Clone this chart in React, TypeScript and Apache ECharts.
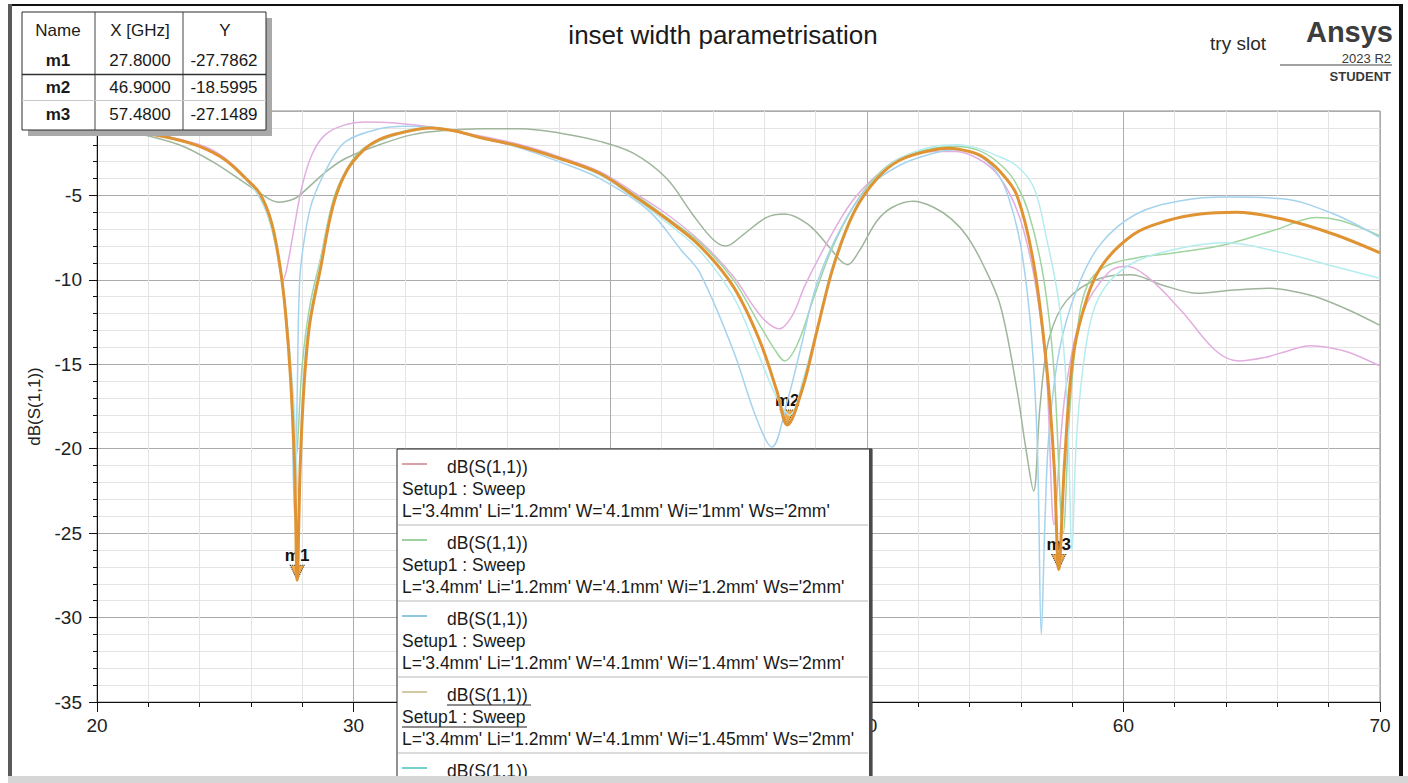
import React, { useEffect, useRef } from "react";
import * as echarts from "echarts";

const FONT = '"Liberation Sans", Arial, Helvetica, sans-serif';

// dB(S(1,1)) sweeps: [frequency GHz, dB]
const wi1mm: [number, number][] = [
  [20, -0.95], [22, -1.3], [24, -2.0], [25, -2.8], [26, -4.3], [26.5, -5.4], [26.9, -7.5], [27.1, -9.0],
  [27.25, -10.0], [27.4, -9.3], [27.65, -7.2], [28.0, -4.4], [28.4, -2.5], [28.9, -1.4], [29.6, -0.85],
  [30.5, -0.65], [31.5, -0.7], [33.0, -0.95], [35.0, -1.5], [36.5, -2.0], [38.0, -2.7], [39.6, -3.6],
  [40.9, -4.8], [42.2, -6.1], [43.5, -7.7], [44.8, -9.8], [45.6, -11.6], [46.1, -12.5], [46.6, -12.9],
  [47.1, -12.1], [47.6, -10.3], [48.45, -7.8], [49.4, -5.4], [50.4, -3.8], [51.3, -2.8], [52.6, -2.4],
  [53.5, -2.4], [54.3, -2.8], [55.0, -3.6], [55.6, -5.0], [56.1, -7.0], [56.6, -10.5], [57.0, -15.5],
  [57.3, -24.5], [57.55, -19.5], [57.8, -16.0], [58.4, -12.0], [59.4, -9.6], [60.1, -9.2], [61.0, -9.9],
  [62.3, -11.9], [63.6, -14.2], [64.5, -14.8], [65.5, -14.6], [66.2, -14.3], [67.3, -13.9], [68.0, -14.0],
  [68.8, -14.3], [70.0, -15.1],
];

const wi12mm: [number, number][] = [
  [20, -1.0], [22, -1.35], [24, -2.1], [25, -2.9], [26, -4.3], [26.5, -5.4], [27.0, -8.0], [27.4, -12.5],
  [27.75, -20.5], [28.0, -15.0], [28.3, -11.5], [28.7, -8.8], [29.2, -5.3], [29.75, -3.4], [30.4, -2.2],
  [31.7, -1.3], [33.0, -1.0], [35.0, -1.6], [36.5, -2.1], [38.0, -2.8], [39.6, -3.7], [40.9, -4.9],
  [42.2, -6.3], [43.5, -7.8], [44.8, -10.0], [45.8, -12.6], [46.4, -14.1], [46.8, -14.8], [47.3, -13.8],
  [47.9, -11.2], [48.6, -8.3], [49.5, -5.6], [50.4, -3.8], [51.3, -2.8], [52.6, -2.2], [53.5, -2.1],
  [54.3, -2.3], [55.0, -2.9], [55.7, -4.0], [56.3, -6.0], [56.9, -10.0], [57.3, -15.5], [57.65, -25.0],
  [57.9, -18.0], [58.2, -13.0], [58.6, -10.3], [59.3, -9.2], [60.5, -8.7], [62.0, -8.4], [64.0, -7.9],
  [66.0, -7.0], [67.5, -6.3], [68.5, -6.5], [70.0, -7.4],
];

const wi14mm: [number, number][] = [
  [20, -1.0], [22, -1.35], [24, -2.1], [25, -2.9], [26, -4.4], [26.5, -5.6], [27.0, -8.0], [27.3, -11.0],
  [27.55, -15.5], [27.7, -24.0], [27.8, -17.0], [27.9, -10.0], [28.1, -7.4], [28.4, -5.3], [29.1, -3.0],
  [29.7, -1.8], [31.0, -1.05], [32.0, -0.9], [33.0, -0.95], [35.0, -1.6], [36.5, -2.2], [38.0, -3.0],
  [39.6, -4.0], [41.5, -5.9], [42.8, -8.3], [43.5, -9.6], [44.8, -14.2], [45.7, -18.2], [46.3, -19.9],
  [46.9, -17.2], [47.4, -14.2], [48.06, -10.2], [49.0, -6.9], [50.0, -4.6], [51.3, -3.2], [52.6, -2.5],
  [53.5, -2.3], [54.3, -2.6], [55.0, -3.5], [55.5, -5.0], [56.0, -8.0], [56.4, -13.0], [56.65, -20.0],
  [56.8, -31.0], [56.95, -24.0], [57.1, -19.1], [57.5, -14.2], [58.2, -10.5], [59.1, -7.9], [60.5, -6.1],
  [62.3, -5.3], [64.0, -5.1], [66.2, -5.2], [68.2, -6.1], [70.0, -7.5],
];

const wi145mm: [number, number][] = [
  [20, -1.0], [21, -1.15], [22, -1.35], [23, -1.65], [24, -2.1], [25, -2.9], [25.8, -4.0], [26.35, -4.9],
  [26.8, -6.6], [27.13, -9.2], [27.35, -12.0], [27.55, -16.0], [27.7, -21.0], [27.8, -27.7862],
  [27.92, -21.0], [28.08, -16.0], [28.3, -12.5], [28.7, -9.4], [29.2, -5.6], [29.75, -3.5], [30.4, -2.3],
  [31.0, -1.7], [31.7, -1.35], [33.0, -1.0], [34.0, -1.2], [35.0, -1.6], [36.5, -2.1], [38.0, -2.8],
  [39.6, -3.7], [40.9, -5.0], [42.2, -6.4], [43.5, -8.0], [44.8, -10.4], [45.8, -13.5], [46.5, -16.6],
  [46.9, -18.5995], [47.5, -16.4], [48.06, -13.0], [48.7, -9.2], [49.5, -6.0], [50.4, -4.0], [51.3, -2.9],
  [52.6, -2.3], [53.2, -2.2], [54.0, -2.4], [54.5, -2.7], [55.2, -3.6], [55.85, -5.0], [56.5, -9.0],
  [57.0, -15.0], [57.3, -21.0], [57.48, -27.1489], [57.7, -21.0], [58.0, -15.0], [58.4, -12.0],
  [59.1, -9.3], [60.4, -7.3], [61.7, -6.5], [63.0, -6.1], [64.4, -6.0], [66.2, -6.4], [68.2, -7.3],
  [70.0, -8.4],
];

const sweep5: [number, number][] = [
  [20, -1.0], [22, -1.35], [24, -2.1], [25, -2.9], [26, -4.4], [26.5, -5.5], [27.0, -8.3], [27.4, -12.5],
  [27.7, -18.0], [27.85, -23.0], [28.0, -17.0], [28.2, -13.0], [28.6, -9.8], [29.1, -6.0], [29.7, -3.7],
  [30.4, -2.3], [31.7, -1.4], [33.0, -1.0], [35.0, -1.6], [36.5, -2.1], [38.0, -2.8], [39.6, -3.8],
  [40.9, -5.1], [42.2, -6.6], [43.5, -8.3], [44.8, -11.0], [45.8, -14.5], [46.5, -17.0], [47.0, -18.0],
  [47.5, -16.0], [48.1, -12.6], [48.7, -9.0], [49.5, -5.9], [50.4, -3.9], [51.3, -2.8], [52.6, -2.1],
  [53.5, -2.0], [54.3, -2.2], [55.0, -2.6], [55.8, -3.2], [56.5, -4.5], [57.0, -7.5], [57.5, -11.5],
  [57.8, -17.0], [58.0, -26.0], [58.15, -20.0], [58.4, -15.5], [58.8, -12.0], [59.4, -10.2], [60.5, -8.9],
  [62.3, -8.1], [64.0, -7.8], [66.2, -8.4], [68.2, -9.2], [70.0, -9.9],
];

const sweep6: [number, number][] = [
  [20, -0.95], [21.5, -1.3], [23.2, -2.0], [24.5, -3.0], [25.8, -4.3], [26.7, -5.2], [27.1, -5.4],
  [27.5, -5.3], [27.8, -5.1], [28.4, -4.3], [29.0, -3.5], [29.7, -2.8], [31.0, -2.0], [32.3, -1.4],
  [33.6, -1.15], [35.0, -1.05], [36.5, -1.05], [38.0, -1.3], [39.6, -1.8], [40.9, -2.5], [42.2, -4.0],
  [43.2, -6.1], [44.0, -7.6], [44.5, -8.0], [45.2, -7.3], [46.1, -6.3], [46.8, -6.1], [47.7, -6.7],
  [48.45, -7.9], [49.0, -8.9], [49.25, -9.1], [49.7, -8.3], [50.4, -6.5], [51.0, -5.7], [51.8, -5.35],
  [52.6, -5.7], [53.3, -6.4], [53.9, -7.4], [54.5, -9.0], [55.2, -11.5], [55.85, -16.5], [56.2, -20.0],
  [56.5, -22.5], [56.75, -17.5], [57.1, -13.5], [57.8, -11.2], [59.1, -9.9], [60.3, -9.7], [61.5, -10.3],
  [62.9, -10.8], [64.3, -10.6], [65.7, -10.5], [66.7, -10.7], [67.5, -11.0], [68.8, -11.8], [70.0, -12.7],
];

// Markers placed on the Wi='1.45mm' trace
const markerNames = ["m1", "m2", "m3"];
const markerFreqs = [27.8, 46.9, 57.48];
const markerDb = [-27.7862, -18.5995, -27.1489];

// Legend rows
const legendColors = ["#d9a0aa", "#9fd09f", "#8ec7de", "#d2c9a5", "#6fd3cc"];
const legendWi = ["1mm", "1.2mm", "1.4mm", "1.45mm"];

// Tick labels hidden behind the marker table / legend box
const hiddenTicks = [0, 40];

const TITLE = "inset width parametrisation";

function buildGraphic() {
  const els: any[] = [];
  const Z = 100;
  const txt = (text: string, x: number, y: number, size: number, opts: any = {}) => ({
    type: "text",
    z: Z + 2,
    style: {
      text,
      x,
      y,
      font: `${opts.bold ? "bold " : ""}${size}px ${FONT}`,
      fill: opts.fill || "#1a1a1a",
      align: opts.align || "left",
      verticalAlign: "middle",
    },
  });

  // title
  els.push(txt(TITLE, 723, 35, 26, { align: "center" }));

  // branding block
  els.push(txt("Ansys", 1393, 32, 29, { bold: true, align: "right", fill: "#3d3d3d" }));
  els.push(txt("try slot", 1266, 43, 19, { align: "right", fill: "#2a2a2a" }));
  els.push(txt("2023 R2", 1391, 58, 13, { align: "right", fill: "#3a3a3a" }));
  els.push({ type: "line", z: Z, shape: { x1: 1280, y1: 65, x2: 1392, y2: 65 }, style: { stroke: "#444", lineWidth: 1 } });
  els.push(txt("STUDENT", 1391, 76, 13, { bold: true, align: "right", fill: "#3a3a3a" }));

  // marker table
  els.push({ type: "rect", z: Z, shape: { x: 28, y: 18, width: 244, height: 118 }, style: { fill: "#a9a9a9" } });
  els.push({ type: "rect", z: Z + 1, shape: { x: 22, y: 12, width: 244, height: 118 }, style: { fill: "#ffffff", stroke: "#2b2b2b", lineWidth: 1 } });
  els.push({ type: "line", z: Z + 1, shape: { x1: 95, y1: 12, x2: 95, y2: 130 }, style: { stroke: "#444", lineWidth: 1 } });
  els.push({ type: "line", z: Z + 1, shape: { x1: 183, y1: 12, x2: 183, y2: 130 }, style: { stroke: "#444", lineWidth: 1 } });
  els.push({ type: "line", z: Z + 1, shape: { x1: 22, y1: 74.5, x2: 266, y2: 74.5 }, style: { stroke: "#333", lineWidth: 1.5 } });
  els.push({ type: "line", z: Z + 1, shape: { x1: 22, y1: 100.5, x2: 266, y2: 100.5 }, style: { stroke: "#c8c8c8", lineWidth: 1 } });
  els.push(txt("Name", 58, 30, 17, { align: "center" }));
  els.push(txt("X [GHz]", 140, 30, 17, { align: "center" }));
  els.push(txt("Y", 225, 30, 17, { align: "center" }));
  const rowY = [60, 87, 114];
  markerNames.forEach((n, i) => {
    els.push(txt(n, 58, rowY[i], 17, { bold: true, align: "center" }));
    els.push(txt(markerFreqs[i].toFixed(4), 140, rowY[i], 17, { align: "center" }));
    els.push(txt(markerDb[i].toFixed(4), 224, rowY[i], 17, { align: "center" }));
  });

  // legend box
  els.push({ type: "rect", z: Z, shape: { x: 397, y: 449, width: 475, height: 340 }, style: { fill: "#ffffff", stroke: "#222", lineWidth: 1 } });
  els.push({ type: "rect", z: Z + 1, shape: { x: 869, y: 449, width: 3, height: 340 }, style: { fill: "#4a4a4a" } });
  legendColors.forEach((c, i) => {
    const y0 = 449 + 76 * i;
    els.push({ type: "line", z: Z + 1, shape: { x1: 402, y1: y0 + 15, x2: 427, y2: y0 + 15 }, style: { stroke: c, lineWidth: 2 } });
    els.push(txt("dB(S(1,1))", 447, y0 + 18, 17.5));
    if (i < legendWi.length) {
      els.push(txt("Setup1 : Sweep", 402, y0 + 40, 17.5));
      els.push(txt(`L='3.4mm' Li='1.2mm' W='4.1mm' Wi='${legendWi[i]}' Ws='2mm'`, 402, y0 + 62, 17.5));
      els.push({ type: "line", z: Z + 1, shape: { x1: 398, y1: y0 + 76, x2: 868, y2: y0 + 76 }, style: { stroke: "#cfcfcf", lineWidth: 1.5 } });
    }
    if (i === 3) {
      // selected trace: underlined header lines
      els.push({ type: "line", z: Z + 2, shape: { x1: 447, y1: y0 + 28, x2: 531, y2: y0 + 28 }, style: { stroke: "#1a1a1a", lineWidth: 1 } });
      els.push({ type: "line", z: Z + 2, shape: { x1: 402, y1: y0 + 50, x2: 527, y2: y0 + 50 }, style: { stroke: "#1a1a1a", lineWidth: 1 } });
    }
  });

  // window frame
  els.push({ type: "line", z: Z + 5, shape: { x1: 8, y1: 5, x2: 1403, y2: 5 }, style: { stroke: "#111", lineWidth: 2 } });
  els.push({ type: "rect", z: Z + 5, shape: { x: 8, y: 4, width: 4, height: 773 }, style: { fill: "#5a5a5a" } });
  els.push({ type: "rect", z: Z + 5, shape: { x: 1399, y: 4, width: 4, height: 773 }, style: { fill: "#111" } });
  els.push({ type: "rect", z: Z + 6, shape: { x: 8, y: 776, width: 1400, height: 7 }, style: { fill: "#d6d6d6" } });
  return els;
}

const lineSeries = (name: string, data: [number, number][], color: string, width: number, z: number) => ({
  type: "line",
  name,
  data,
  showSymbol: false,
  smooth: 0.35,
  z,
  lineStyle: { color, width },
  emphasis: { disabled: true },
});

export default function App() {
  const ref = useRef<HTMLDivElement>(null);

  useEffect(() => {
    if (!ref.current) return;
    const chart = echarts.init(ref.current, undefined, { renderer: "svg" });
    const axisText = { fontSize: 19, color: "#222", fontFamily: FONT };
    const tickText = (v: number) => (hiddenTicks.includes(v) ? "" : String(v));
    const option: any = {
      animation: false,
      backgroundColor: "#ffffff",
      grid: { left: 97, right: 28, top: 111, bottom: 81, show: true, borderColor: "#8a8a8a", borderWidth: 1 },
      xAxis: {
        type: "value",
        min: 20,
        max: 70,
        interval: 10,
        axisLine: { show: true, onZero: false, lineStyle: { color: "#111", width: 1 } },
        axisTick: { show: true, length: 10, lineStyle: { color: "#111" } },
        minorTick: { show: true, splitNumber: 5, length: 5, lineStyle: { color: "#111" } },
        splitLine: { show: true, lineStyle: { color: "#ababab", width: 1 } },
        minorSplitLine: { show: true, lineStyle: { color: "#e4e4e4", width: 1 } },
        axisLabel: { ...axisText, margin: 14, formatter: tickText },
      },
      yAxis: {
        type: "value",
        min: -35,
        max: 0,
        interval: 5,
        name: "dB(S(1,1))",
        nameLocation: "middle",
        nameGap: 54,
        nameTextStyle: { fontSize: 17, color: "#222", fontFamily: FONT },
        axisLine: { show: true, onZero: false, lineStyle: { color: "#111", width: 1 } },
        axisTick: { show: true, length: 8, lineStyle: { color: "#111" } },
        minorTick: { show: true, splitNumber: 5, length: 4, lineStyle: { color: "#111" } },
        splitLine: { show: true, lineStyle: { color: "#ababab", width: 1 } },
        minorSplitLine: { show: true, lineStyle: { color: "#e4e4e4", width: 1 } },
        axisLabel: { ...axisText, margin: 15, formatter: tickText },
      },
      series: [
        lineSeries("sweep 6", sweep6, "#9fb59c", 1.5, 2),
        lineSeries("Wi='1mm'", wi1mm, "#e2aee0", 1.5, 3),
        lineSeries("Wi='1.2mm'", wi12mm, "#9fd49f", 1.5, 4),
        lineSeries("Wi='1.4mm'", wi14mm, "#a5d3ee", 1.5, 5),
        lineSeries("sweep 5", sweep5, "#b5ecef", 1.5, 6),
        {
          ...lineSeries("Wi='1.45mm'", wi145mm, "#e09332", 3, 10),
          markPoint: {
            symbol: "path://M0,0 L10,0 L5,11 Z",
            symbolSize: [14, 15],
            symbolOffset: [0, "-50%"],
            itemStyle: { color: "#f0a848", borderColor: "#333", borderWidth: 1, borderType: "dotted" },
            label: {
              show: true,
              position: "top",
              distance: 1,
              formatter: "{b}",
              fontWeight: "bold",
              fontSize: 17,
              color: "#111",
              fontFamily: FONT,
            },
            data: markerNames.map((n, i) => ({ name: n, coord: [markerFreqs[i], markerDb[i]] })),
          },
        },
      ],
      graphic: buildGraphic(),
    };
    chart.setOption(option);
    return () => chart.dispose();
  }, []);

  return (
    <div
      ref={ref}
      style={{ position: "absolute", left: 0, top: 0, width: 1408, height: 783, background: "#fff" }}
    />
  );
}
